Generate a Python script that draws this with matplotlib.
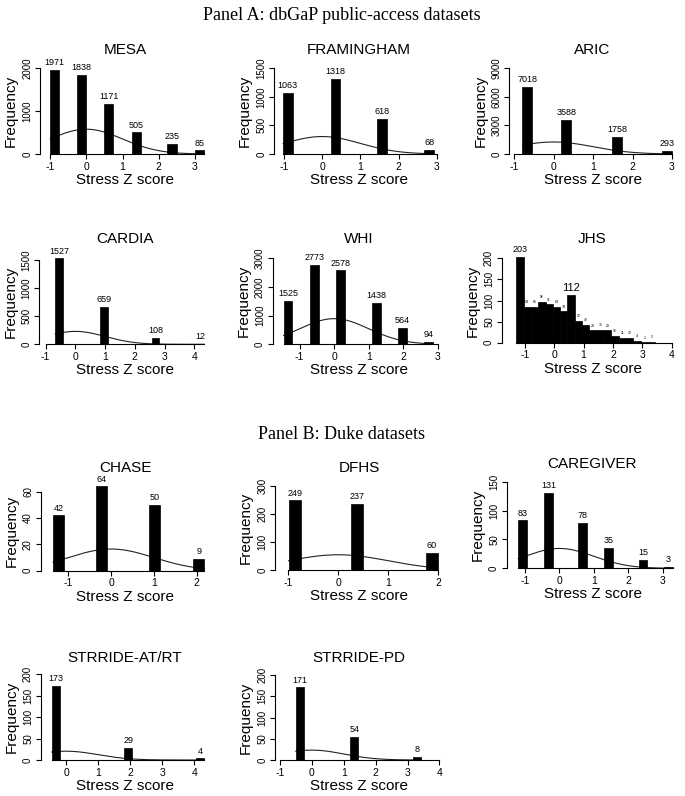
import numpy as np
import matplotlib.pyplot as plt

plt.rcParams['font.family'] = ['Liberation Sans', 'DejaVu Sans']
num_font = ['Liberation Sans Narrow', 'Liberation Sans', 'DejaVu Sans']

W, H = 685, 796

names = ['MESA', 'FRAMINGHAM', 'ARIC', 'CARDIA', 'WHI', 'JHS',
         'CHASE', 'DFHS', 'CAREGIVER', 'STRRIDE-AT/RT', 'STRRIDE-PD']

# bar centres (stress z score) and counts, one list per study
bar_x = [
    [-0.87, -0.125, 0.625, 1.375, 2.365, 3.13],
    [-0.90, 0.35, 1.56, 2.80],
    [-0.66, 0.325, 1.605, 2.87],
    [-0.55, 0.96, 2.70, 4.21],
    [-1.34, -0.57, 0.18, 1.22, 1.97, 2.73],
    [-1.175, -0.925, -0.675, -0.425, -0.175, 0.075, 0.325, 0.575, 0.825, 1.075,
     1.325, 1.575, 1.825, 2.075, 2.325, 2.575, 2.825, 3.075, 3.325],
    [-1.23, -0.22, 1.02, 2.05],
    [-0.87, 0.37, 1.87],
    [-1.07, -0.32, 0.68, 1.43, 2.43, 3.17],
    [-0.32, 1.94, 4.18],
    [-0.38, 1.33, 3.30],
]
counts = [
    [1971, 1838, 1171, 505, 235, 85],
    [1063, 1318, 618, 68],
    [7018, 3588, 1758, 293],
    [1527, 659, 108, 12],
    [1525, 2773, 2578, 1438, 564, 94],
    [203, 84, 85, 96, 91, 84, 74, 112, 52, 42, 29, 31, 29, 16, 11, 12, 4, 1, 2],
    [42, 64, 50, 9],
    [249, 237, 60],
    [83, 131, 78, 35, 15, 3],
    [173, 29, 4],
    [171, 54, 8],
]
xticks = [
    [-1, 0, 1, 2, 3], [-1, 0, 1, 2, 3], [-1, 0, 1, 2, 3],
    [-1, 0, 1, 2, 3, 4], [-1, 0, 1, 2, 3], [-1, 0, 1, 2, 3, 4],
    [-1, 0, 1, 2], [-1, 0, 1, 2], [-1, 0, 1, 2, 3],
    [0, 1, 2, 3, 4], [-1, 0, 1, 2, 3, 4],
]
yticks = [
    [0, 1000, 2000], [0, 500, 1000, 1500], [0, 3000, 6000, 9000],
    [0, 500, 1000, 1500], [0, 1000, 2000, 3000], [0, 50, 100, 150, 200],
    [0, 20, 40, 60], [0, 100, 200, 300], [0, 50, 100, 150],
    [0, 50, 100, 150, 200], [0, 50, 100, 150, 200],
]
show_curve = [True, True, True, True, True, False, True, True, True, True, True]
bin_width = 0.25

# layout in pixels: y-axis x, pixel of z=0, pixels per unit, zero line y, top tick y
layout = [
    (40, 86.25, 36.25, 154, 68.3),
    (274, 322.2, 38.17, 154, 68.3),
    (509.3, 553.5, 39.5, 154, 68.3),
    (39.3, 75.4, 29.73, 344.3, 260),
    (272.7, 334.2, 34.53, 344.3, 258.3),
    (501.7, 554.3, 29.33, 342.7, 258.3),
    (40.7, 111.1, 42.8, 570.7, 491.7),
    (275, 338.3, 50, 570, 486),
    (506.7, 559.4, 34.4, 568.3, 481.7),
    (40.7, 66, 32.1, 760, 674.3),
    (275, 311.9, 31.9, 760, 675),
]
col_center = [125, 359, 592.5]
title_y = [50, 50, 50, 239, 239, 239, 468, 468, 464, 658, 658]

fig = plt.figure(figsize=(W / 100, H / 100), dpi=100)

fig.text(342 / W, 1 - 15 / H, 'Panel A: dbGaP public-access datasets',
         family='Liberation Serif', fontsize=13, ha='center', va='center')
fig.text(342 / W, 1 - 435 / H, 'Panel B: Duke datasets',
         family='Liberation Serif', fontsize=13, ha='center', va='center')

for i, name in enumerate(names):
    yax, x0px, ppu, zero, top = layout[i]
    cx = col_center[i % 3]
    right = 2 * cx - yax
    ax = fig.add_axes([yax / W, 1 - zero / H, (right - yax) / W, (zero - top) / H])
    ax.set_xlim((yax - x0px) / ppu, (right - x0px) / ppu)
    ax.set_ylim(0, yticks[i][-1])

    xs = np.array(bar_x[i])
    ns = np.array(counts[i])
    lo = xs[0] - bin_width / 2
    hi = xs[-1] + bin_width / 2

    if show_curve[i]:
        zz = np.linspace(lo, hi, 300)
        dens = ns.sum() * bin_width * np.exp(-zz ** 2 / 2) / np.sqrt(2 * np.pi)
        ax.plot(zz, dens, color='#222222', lw=0.8, clip_on=False, zorder=2)

    ax.bar(xs, ns, width=bin_width, color='black', edgecolor='black',
           linewidth=0.5, clip_on=False, zorder=3)

    for x, n in zip(xs, ns):
        if name == 'JHS' and n not in (203, 112):
            fs = 2.5
        elif name == 'JHS' and n == 112:
            fs = 8
        else:
            fs = 6.5
        ax.annotate(str(n), (x, n), xytext=(0, 2), textcoords='offset points',
                    ha='center', va='bottom', fontsize=fs, family=num_font,
                    annotation_clip=False)

    for s in ['top', 'right']:
        ax.spines[s].set_visible(False)
    ax.spines['left'].set_bounds(0, yticks[i][-1])
    ax.spines['bottom'].set_bounds(min(xticks[i][0], lo), max(xticks[i][-1], hi))
    for s in ['left', 'bottom']:
        ax.spines[s].set_linewidth(0.8)

    ax.set_xticks(xticks[i])
    ax.set_xticklabels([str(t) for t in xticks[i]], family=num_font, fontsize=7.5)
    ax.set_yticks(yticks[i])
    ax.set_yticklabels([str(t) for t in yticks[i]], family=num_font, fontsize=7,
                       rotation=90, va='center')
    ax.tick_params(direction='out', length=3.5, width=0.8, pad=2)
    ax.patch.set_visible(False)

    fig.text(cx / W, 1 - title_y[i] / H, name, fontsize=11, ha='center', va='center')
    fig.text(cx / W, 1 - (zero + 26) / H, 'Stress Z score', fontsize=11,
             ha='center', va='center')
    fig.text((yax - 29) / W, 1 - ((zero + top) / 2) / H, 'Frequency', fontsize=11,
             rotation=90, ha='center', va='center')

fig.savefig('out.png', dpi=100)
